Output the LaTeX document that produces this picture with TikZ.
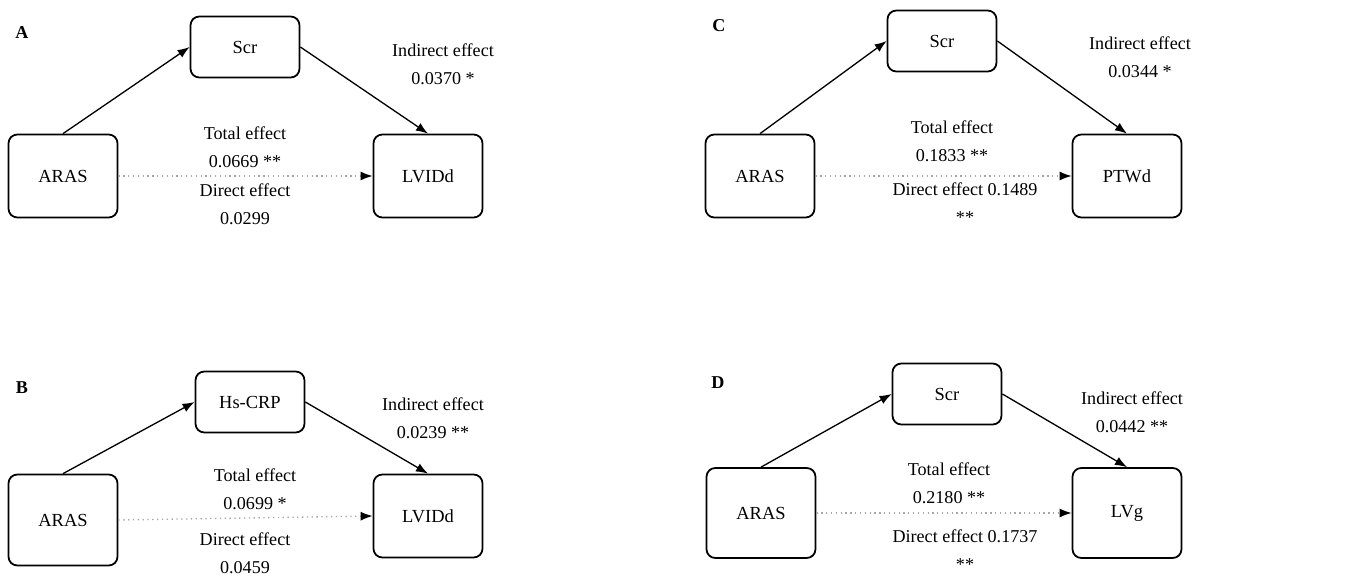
\documentclass[tikz,border=0pt]{standalone}
\usepackage{fontspec}
\setmainfont{Liberation Serif}
\usetikzlibrary{arrows.meta, positioning}

\tikzset{
  varbox/.style={draw, line width=1pt, rounded corners=5pt, minimum width=2.18cm, minimum height=1.66cm, font=\fontsize{10.5}{12}\selectfont},
  medbox/.style={varbox, minimum height=1.22cm},
  lbl/.style={align=center, inner sep=0pt, font=\fontsize{10.3}{15.9}\selectfont},
  tag/.style={font=\fontsize{10.3}{12}\selectfont\bfseries, inner sep=0pt},
  path/.style={line width=0.75pt, -{Latex[length=0.24cm, width=0.18cm]}},
  direct/.style={draw=black!35, dotted, line width=0.75pt, -{Latex[length=0.24cm, width=0.18cm, color=black]}}
}

\begin{document}
\begin{tikzpicture}[x=0.02cm, y=-0.02cm]
\useasboundingbox (0,0) rectangle (1359,577);

% panel A
\node[tag] (tA) at (22,33) {A};
\node[varbox] (xA) at (63,176) {ARAS};
\node[medbox] (mA) at (245,47) {Scr};
\node[varbox] (yA) at (428,176) {LVIDd};
\draw[path] (xA.north) -- (mA.west);
\draw[path] (mA.east) -- (yA.north);
\draw[direct] (xA.east) -- (yA.west);
\node[lbl] (iA) at (443,64) {Indirect effect\\0.0370 *};
\node[lbl] (eA) at (245,147) {Total effect\\0.0669 **};
\node[lbl] (dA) at (245,204) {Direct effect\\0.0299};

% panel C
\node[tag] (tC) at (719,26) {C};
\node[varbox] (xC) at (760,176) {ARAS};
\node[medbox] (mC) at (942,41) {Scr};
\node[varbox] (yC) at (1127,176) {PTWd};
\draw[path] (xC.north) -- (mC.west);
\draw[path] (mC.east) -- (yC.north);
\draw[direct] (xC.east) -- (yC.west);
\node[lbl] (iC) at (1140,57) {Indirect effect\\0.0344 *};
\node[lbl] (eC) at (952,141) {Total effect\\0.1833 **};
\node[lbl] (dC) at (965,203) {Direct effect 0.1489\\**};

% panel B
\node[tag] (tB) at (22,388) {B};
\node[varbox, minimum height=1.82cm] (xB) at (63,520) {ARAS};
\node[medbox] (mB) at (250,402) {Hs-CRP};
\node[varbox] (yB) at (428,516) {LVIDd};
\draw[path] (xB.north) -- (mB.west);
\draw[path] (mB.east) -- (yB.north);
\draw[direct] (xB.east) -- (yB.west);
\node[lbl] (iB) at (433,418) {Indirect effect\\0.0239 **};
\node[lbl] (eB) at (255,489) {Total effect\\0.0699 *};
\node[lbl] (dB) at (245,553) {Direct effect\\0.0459};

% panel D
\node[tag] (tD) at (718,383) {D};
\node[varbox, minimum height=1.8cm] (xD) at (761,513) {ARAS};
\node[medbox] (mD) at (947,394) {Scr};
\node[varbox, minimum height=1.8cm] (yD) at (1127,513) {LVg};
\draw[path] (xD.north) -- (mD.west);
\draw[path] (mD.east) -- (yD.north);
\draw[direct] (xD.east) -- (yD.west);
\node[lbl] (iD) at (1132,412) {Indirect effect\\0.0442 **};
\node[lbl] (eD) at (949,483) {Total effect\\0.2180 **};
\node[lbl] (dD) at (965,550) {Direct effect 0.1737\\**};
\end{tikzpicture}
\end{document}
